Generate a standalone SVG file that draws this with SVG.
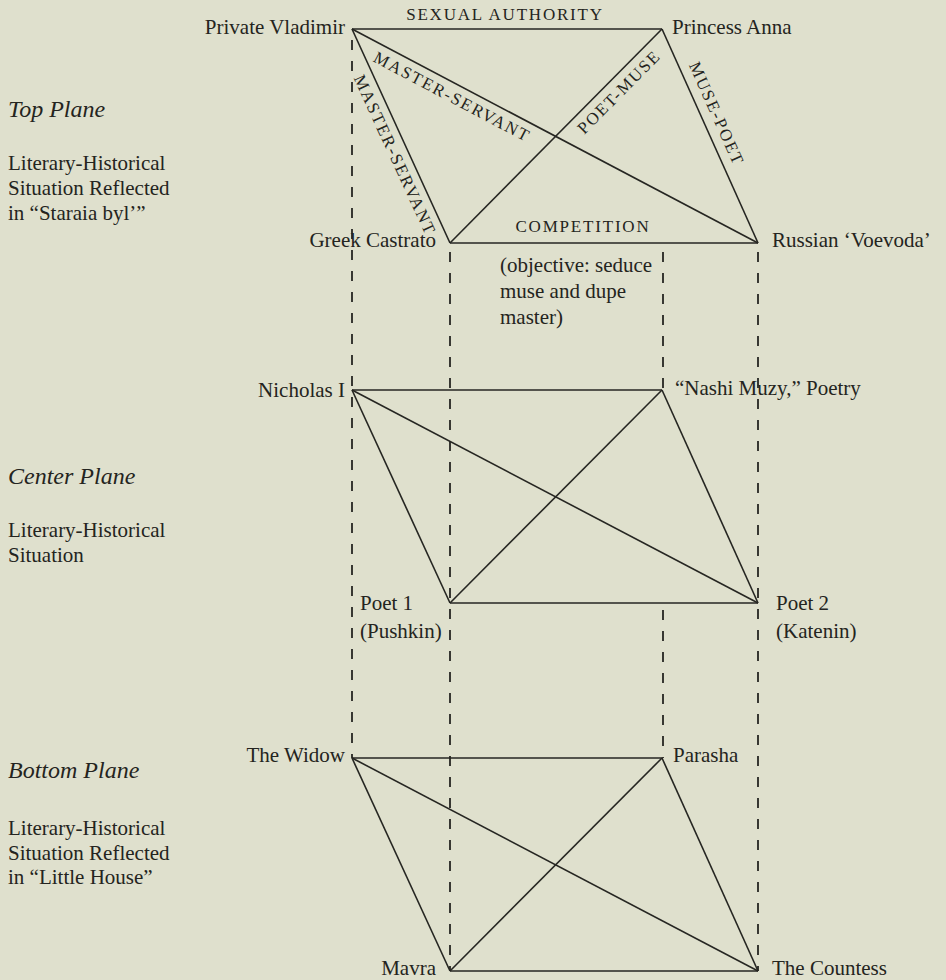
<svg xmlns="http://www.w3.org/2000/svg" width="946" height="980" viewBox="0 0 946 980">
<style>
text{font-family:"Liberation Serif","Times New Roman",serif;fill:#242420;font-size:21px}
.h{font-style:italic;font-size:24px}
.cap{font-size:17px;letter-spacing:1.8px}
.s{stroke:#262622;stroke-width:1.6;fill:none}
.d{stroke:#262622;stroke-width:1.8;fill:none;stroke-dasharray:10 11}
.e{text-anchor:end}
.m{text-anchor:middle}
</style>
<rect width="946" height="980" fill="#dfe0cd"/>
<g id="connectors">
<g id="dashed">
<line class="d" x1="352" y1="40" x2="352" y2="758"/>
<line class="d" x1="450" y1="252" x2="450" y2="971"/>
<line class="d" x1="663" y1="252" x2="663" y2="390"/>
<line class="d" x1="663" y1="610" x2="663" y2="758"/>
<line class="d" x1="758" y1="252" x2="758" y2="971"/>
</g>
<g id="top-lines">
<line class="s" x1="352" y1="29" x2="662" y2="29"/>
<line class="s" x1="450" y1="243" x2="758" y2="243"/>
<line class="s" x1="352" y1="29" x2="450" y2="243"/>
<line class="s" x1="662" y1="29" x2="758" y2="243"/>
<line class="s" x1="352" y1="29" x2="758" y2="243"/>
<line class="s" x1="450" y1="243" x2="662" y2="29"/>
</g>
<g id="center-lines">
<line class="s" x1="352" y1="390" x2="662" y2="390"/>
<line class="s" x1="450" y1="603" x2="758" y2="603"/>
<line class="s" x1="352" y1="390" x2="450" y2="603"/>
<line class="s" x1="662" y1="390" x2="758" y2="603"/>
<line class="s" x1="352" y1="390" x2="758" y2="603"/>
<line class="s" x1="450" y1="603" x2="662" y2="390"/>
</g>
<g id="bottom-lines">
<line class="s" x1="352" y1="758" x2="662" y2="758"/>
<line class="s" x1="450" y1="971" x2="758" y2="971"/>
<line class="s" x1="352" y1="758" x2="450" y2="971"/>
<line class="s" x1="662" y1="758" x2="758" y2="971"/>
<line class="s" x1="352" y1="758" x2="758" y2="971"/>
<line class="s" x1="450" y1="971" x2="662" y2="758"/>
</g>
<g id="edge-labels">
<text class="cap m" x="505" y="20">SEXUAL AUTHORITY</text>
<text class="cap m" x="583" y="232">COMPETITION</text>
<text class="cap m" transform="translate(449.5,101.8) rotate(27.8)">MASTER-SERVANT</text>
<text class="cap m" transform="translate(389.8,157.3) rotate(65.4)">MASTER-SERVANT</text>
<text class="cap m" transform="translate(623,96) rotate(-45.3)">POET-MUSE</text>
<text class="cap m" transform="translate(711.5,116) rotate(65.9)">MUSE-POET</text>
<text x="500" y="272">(objective: seduce</text>
<text x="500" y="298">muse and dupe</text>
<text x="500" y="324">master)</text>
</g>
</g>
<g id="plane-labels">
<g id="top-plane-label">
<text class="h" x="8" y="117">Top Plane</text>
<text x="8" y="170">Literary-Historical</text>
<text x="8" y="195">Situation Reflected</text>
<text x="8" y="220">in “Staraia byl’”</text>
</g>
<g id="center-plane-label">
<text class="h" x="8" y="484">Center Plane</text>
<text x="8" y="537">Literary-Historical</text>
<text x="8" y="562">Situation</text>
</g>
<g id="bottom-plane-label">
<text class="h" x="8" y="778">Bottom Plane</text>
<text x="8" y="835">Literary-Historical</text>
<text x="8" y="860">Situation Reflected</text>
<text x="8" y="884">in “Little House”</text>
</g>
</g>
<g id="node-vladimir"><text class="e" x="345" y="34">Private Vladimir</text></g>
<g id="node-anna"><text x="672" y="34">Princess Anna</text></g>
<g id="node-castrato"><text class="e" x="436" y="247">Greek Castrato</text></g>
<g id="node-voevoda"><text x="772" y="247">Russian ‘Voevoda’</text></g>
<g id="node-nicholas"><text class="e" x="345" y="397">Nicholas I</text></g>
<g id="node-nashi"><text x="675" y="395">“Nashi Muzy,” Poetry</text></g>
<g id="node-poet1"><text x="360" y="610">Poet 1</text><text x="360" y="638">(Pushkin)</text></g>
<g id="node-poet2"><text x="776" y="610">Poet 2</text><text x="776" y="638">(Katenin)</text></g>
<g id="node-widow"><text class="e" x="345" y="762">The Widow</text></g>
<g id="node-parasha"><text x="673" y="762">Parasha</text></g>
<g id="node-mavra"><text class="e" x="436" y="975">Mavra</text></g>
<g id="node-countess"><text x="772" y="975">The Countess</text></g>
</svg>
